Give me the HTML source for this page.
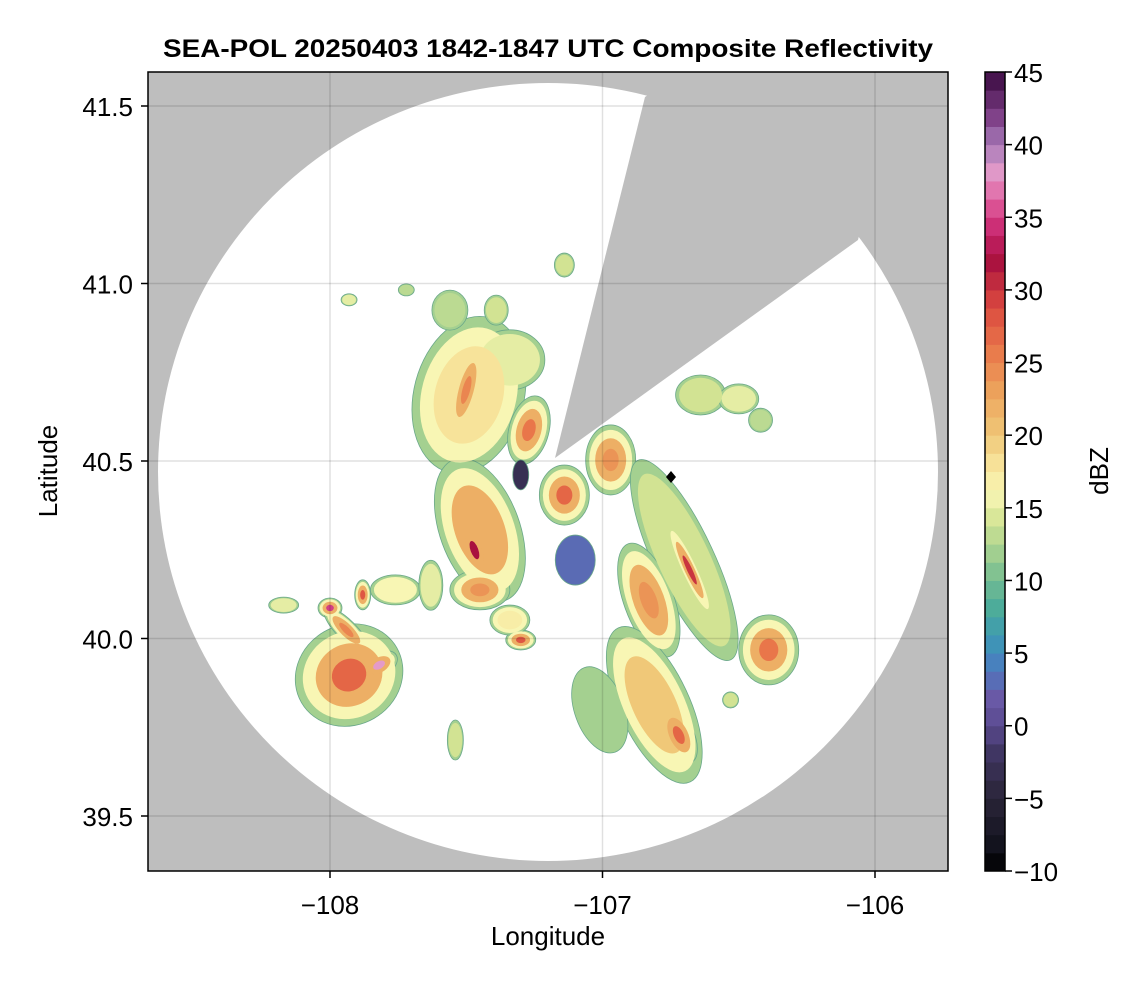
<!DOCTYPE html>
<html><head><meta charset="utf-8">
<style>
body{margin:0;background:#fff;font-family:"Liberation Sans",sans-serif}
svg text{font-family:"Liberation Sans",sans-serif}
</style></head>
<body>
<svg id="chart" width="1146" height="990" viewBox="0 0 1146 990">
<defs>
 <clipPath id="plotclip"><rect x="148" y="72" width="800" height="799"/></clipPath>
 <clipPath id="radarclip"><ellipse cx="548" cy="472" rx="390" ry="389"/></clipPath>
</defs>
<text x="548" y="57" text-anchor="middle" font-size="25" font-weight="bold" textLength="770" lengthAdjust="spacingAndGlyphs">SEA-POL 20250403 1842-1847 UTC Composite Reflectivity</text>
<rect x="148" y="72" width="800" height="799" fill="#bebebe"/>
<g clip-path="url(#plotclip)">
 <ellipse cx="548" cy="472" rx="390" ry="389" fill="#fff"/>
 <g id="cells" clip-path="url(#radarclip)"></g>
 <polygon points="555,458 645,97 700,60 900,60 858,240" fill="#bebebe"/>
 <g id="grid"></g>
 <path d="M671,471 L676,477 L671,483 L666,477 Z" fill="#000"/>
</g>
<rect x="148" y="72" width="800" height="799" fill="none" stroke="#000" stroke-width="1.5"/>
<g id="axes"></g>
<text x="548" y="945" text-anchor="middle" font-size="26">Longitude</text>
<text x="57" y="471" text-anchor="middle" font-size="26" transform="rotate(-90 57 471)">Latitude</text>
<g id="cbar"></g>
<text x="1108" y="471" text-anchor="middle" font-size="26" transform="rotate(-90 1108 471)">dBZ</text>
</svg>
<script>
const xTicks=[-108,-107,-106];
const yTicks=[39.5,40.0,40.5,41.0,41.5];
const cbTicks=[-10,-5,0,5,10,15,20,25,30,35,40,45];
const cellLon=[-107.93,-107.82,-108.0,-107.94,-107.88,-107.49,-107.50,-107.27,-107.34,-107.45,-107.47,-107.45,-107.14,-106.97,-106.70,-106.68,-106.83,-106.81,-106.72,-106.39,-107.10,-107.30,-106.64,-106.50,-107.56,-107.39,-107.14,-107.93,-107.72,-107.76,-107.63,-107.54,-107.01,-107.30,-107.34,-106.53,-108.17,-106.42];
const cellLat=[39.897,39.925,40.086,40.024,40.123,40.686,40.70,40.587,40.785,40.306,40.249,40.137,40.404,40.503,40.221,40.193,40.108,39.813,39.728,39.968,40.221,40.461,40.686,40.675,40.925,40.925,41.052,40.954,40.982,40.137,40.15,39.714,39.799,39.996,40.052,39.827,40.094,40.615];
const cellDbz=[27,38,35,25,28,18,25,26,15,22,32,24,27,24,14,30,24,20,27,26,3,-3,14,15,13,14,14,15,13,16,15,14,12,28,17,14,15,13];
const cellW=[55,20,12,30,8,55,12,20,35,40,12,30,25,25,30,8,25,35,15,30,20,8,25,20,18,12,10,8,8,25,12,8,25,15,20,8,15,12];
const cellH=[50,12,10,10,15,80,45,35,30,75,30,20,30,35,110,50,60,85,30,35,25,15,20,15,20,15,12,6,6,15,25,20,45,10,15,8,8,12];
const cellRot=[-30,-30,0,45,0,15,15,15,0,-20,-20,0,0,0,-25,-25,-20,-25,-25,0,0,0,0,0,0,0,0,0,0,0,0,0,-20,0,0,0,0,0];
const stopV=[-10,-8,-5,-2,0,2,4,6,8,10,12,14,16,18,20,23,26,29,32,34,36,38,40,42,45];
const stopC=["#000000","#141420","#2a2538","#3e3560","#5a4a8f","#6a5aa8","#4a7cc0","#3d98b5","#4aab9a","#72bb92","#a4d090","#d2e393","#f8f6b4","#f7e39a","#f0c878","#eca35c","#e9764a","#d9473f","#a9113f","#c8256e","#de5a9a","#e49ac9","#a77bb9","#7d3e86","#3a0a40"];
const NS="http://www.w3.org/2000/svg";
function xS(lon){return 330+(lon+108)*272.5;}
function yS(lat){return 461-(lat-40.5)*355;}
function cbY(v){return 871-(v+10)/55*799;}
function hex(h){return [1,3,5].map(i=>parseInt(h.substr(i,2),16));}
function color(v){
 v=Math.max(-10,Math.min(45,v));
 for(let i=0;i<stopV.length-1;i++){
  if(v<=stopV[i+1]){const t=(v-stopV[i])/(stopV[i+1]-stopV[i]);const a=hex(stopC[i]),b=hex(stopC[i+1]);
   return "rgb("+a.map((c,k)=>Math.round(c+(b[k]-c)*t)).join(",")+")";}
 }
 return stopC[stopC.length-1];
}
function mk(tag,attrs,parent){const e=document.createElementNS(NS,tag);for(const k in attrs)e.setAttribute(k,attrs[k]);parent.appendChild(e);return e;}
const cg=document.getElementById('cells');
const levels=[[1,12],[0.86,16],[0.62,22],[0.32,99]];
levels.forEach(([s,cap],li)=>{
 cellLon.forEach((lon,i)=>{
  const p=cellDbz[i];
  if(li>0 && p<=levels[li-1][1]) return;
  const v=Math.min(p,cap);
  const cx=xS(lon),cy=yS(cellLat[i]);
  const e=mk('ellipse',{cx:cx,cy:cy,rx:cellW[i]*s,ry:cellH[i]*s,transform:`rotate(${cellRot[i]} ${cx} ${cy})`,fill:color(v)},cg);
  if(li===0){e.setAttribute('stroke','#6aa88a');e.setAttribute('stroke-width','0.8');}
  
  
 });
});
const grid=document.getElementById('grid');
xTicks.forEach(t=>{const l=mk('line',{x1:xS(t),x2:xS(t),y1:72,y2:871,stroke:'#000','stroke-opacity':0.12,'stroke-width':1.5},grid);
 });
yTicks.forEach(t=>{const l=mk('line',{x1:148,x2:948,y1:yS(t),y2:yS(t),stroke:'#000','stroke-opacity':0.12,'stroke-width':1.5},grid);
 });
const ax=document.getElementById('axes');
xTicks.forEach(t=>{mk('line',{x1:xS(t),x2:xS(t),y1:871,y2:878,stroke:'#000','stroke-width':1.5},ax);
 const tx=mk('text',{x:xS(t),y:914,'text-anchor':'middle','font-size':26},ax);tx.textContent='\u2212'+Math.abs(t);
 });
yTicks.forEach(t=>{mk('line',{x1:141,x2:148,y1:yS(t),y2:yS(t),stroke:'#000','stroke-opacity':1,'stroke-width':1.5},ax);
 const tx=mk('text',{x:133,y:yS(t)+10,'text-anchor':'end','font-size':26},ax);tx.textContent=t.toFixed(1);
 });
const cb=document.getElementById('cbar');
for(let v=-10;v<45;v+=1.25){const r=mk('rect',{x:985,y:cbY(v+1.25),width:20,height:cbY(v)-cbY(v+1.25)+0.5,fill:color(v+0.625)},cb);
 }
mk('rect',{x:985,y:72,width:20,height:799,fill:'none',stroke:'#000','stroke-width':1.5},cb);
cbTicks.forEach(t=>{mk('line',{x1:1005,x2:1012,y1:cbY(t),y2:cbY(t),stroke:'#000','stroke-width':1.5},cb);
 const tx=mk('text',{x:1014,y:cbY(t)+10,'font-size':26},cb);tx.textContent=(t<0?'\u2212'+Math.abs(t):String(t));
 });
</script>
</body></html>
